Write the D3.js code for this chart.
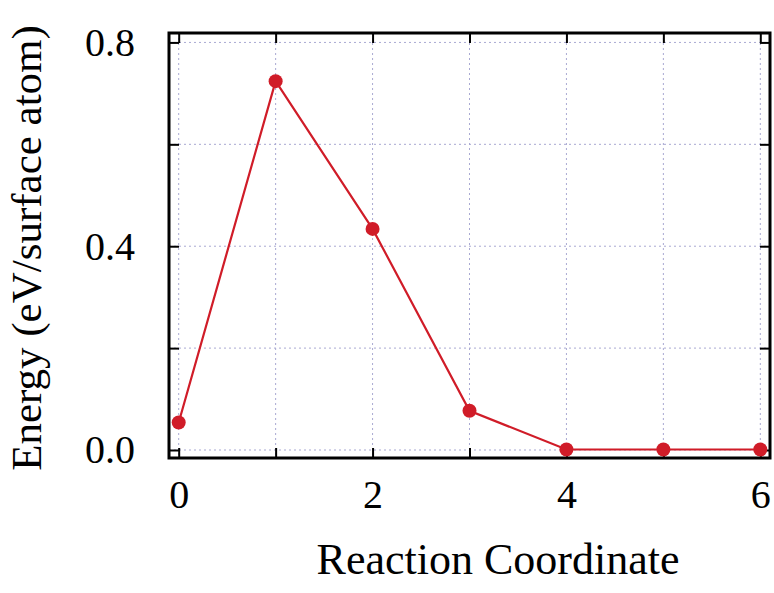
<!DOCTYPE html>
<html>
<head>
<meta charset="utf-8">
<script src="https://cdn.jsdelivr.net/npm/d3@7"></script>
<style>
	body { margin: 0; background: #fff; }
	svg { display: block; font-family: "Liberation Serif", "Times New Roman", serif; }
</style>
</head>
<body>
<div id="chart"></div>
<script>
	// reaction path data
	var steps = [0, 1, 2, 3, 4, 5, 6];
	var energies = [0.054, 0.724, 0.434, 0.077, 0.001, 0.001, 0.001];
	var xTicks = [0, 1, 2, 3, 4, 5, 6];
	var xTickLabels = ["0", "", "2", "", "4", "", "6"];
	var yTicks = [0, 0.2, 0.4, 0.6, 0.8];
	var yTickLabels = ["0.0", "", "0.4", "", "0.8"];

	var width = 774, height = 593;
	var plot = { left: 169, right: 770, top: 33, bottom: 458 };
	var red = "#d01c28", gridColor = "#a9a9d2";
	var tickLen = 10;

	var svg = d3.select("#chart").append("svg")
		.attr("width", width)
		.attr("height", height);

	var x = d3.scaleLinear()
		.domain([-0.1, 6.1])
		.range([plot.left, plot.right]);
	var y = d3.scaleLinear()
		.domain([-0.0157, 0.8185])
		.range([plot.bottom, plot.top]);

	// grid
	var grid = svg.append("g").attr("class", "grid")
		.attr("stroke", gridColor)
		.attr("stroke-width", 1)
		.attr("stroke-dasharray", "2,3");
	grid.selectAll(".gx").data(xTicks).enter().append("line")
		.attr("x1", function(d) { return x(d); })
		.attr("x2", function(d) { return x(d); })
		.attr("y1", plot.top)
		.attr("y2", plot.bottom);
	grid.selectAll(".gy").data(yTicks).enter().append("line")
		.attr("y1", function(d) { return y(d); })
		.attr("y2", function(d) { return y(d); })
		.attr("x1", plot.left)
		.attr("x2", plot.right);

	// axes (ticks inward, labels only on some)
	function styleAxis(g) {
		g.select(".domain").remove();
		g.selectAll(".tick line").attr("stroke", "#000").attr("stroke-width", 2);
		g.selectAll(".tick text")
			.attr("fill", "#000")
			.style("font-size", "40px")
			.style("font-family", "'Liberation Serif', serif");
	}

	svg.append("g")
		.attr("transform", "translate(0," + plot.bottom + ")")
		.call(d3.axisBottom(x).tickValues(xTicks)
			.tickSize(-tickLen).tickPadding(tickLen + 12)
			.tickFormat(function(d, i) { return xTickLabels[i]; }))
		.call(styleAxis);
	svg.append("g")
		.attr("transform", "translate(0," + plot.top + ")")
		.call(d3.axisTop(x).tickValues(xTicks)
			.tickSize(-tickLen).tickFormat(""))
		.call(styleAxis);
	svg.append("g")
		.attr("transform", "translate(" + plot.left + ",0)")
		.call(d3.axisLeft(y).tickValues(yTicks)
			.tickSize(-tickLen).tickPadding(tickLen + 24)
			.tickFormat(function(d, i) { return yTickLabels[i]; }))
		.call(styleAxis);
	svg.append("g")
		.attr("transform", "translate(" + plot.right + ",0)")
		.call(d3.axisRight(y).tickValues(yTicks)
			.tickSize(-tickLen).tickFormat(""))
		.call(styleAxis);

	// frame
	svg.append("rect")
		.attr("x", plot.left)
		.attr("y", plot.top)
		.attr("width", plot.right - plot.left)
		.attr("height", plot.bottom - plot.top)
		.attr("fill", "none")
		.attr("stroke", "#000")
		.attr("stroke-width", 3);

	// line + markers
	var pts = steps.map(function(s, i) { return { x: s, y: energies[i] }; });
	svg.append("path")
		.datum(pts)
		.attr("fill", "none")
		.attr("stroke", red)
		.attr("stroke-width", 2.2)
		.attr("d", d3.line()
			.x(function(d) { return x(d.x); })
			.y(function(d) { return y(d.y); }));
	svg.selectAll(".pt").data(pts).enter().append("circle")
		.attr("class", "pt")
		.attr("cx", function(d) { return x(d.x); })
		.attr("cy", function(d) { return y(d.y); })
		.attr("r", 7)
		.attr("fill", red);

	// axis titles
	svg.append("text")
		.attr("x", (318 + 678) / 2)
		.attr("y", 574)
		.attr("text-anchor", "middle")
		.style("font-size", "44px")
		.text("Reaction Coordinate");
	svg.append("text")
		.attr("transform", "translate(41," + 248 + ") rotate(-90)")
		.attr("text-anchor", "middle")
		.style("font-size", "43px")
		.text("Energy (eV/surface atom)");
</script>
</body>
</html>
